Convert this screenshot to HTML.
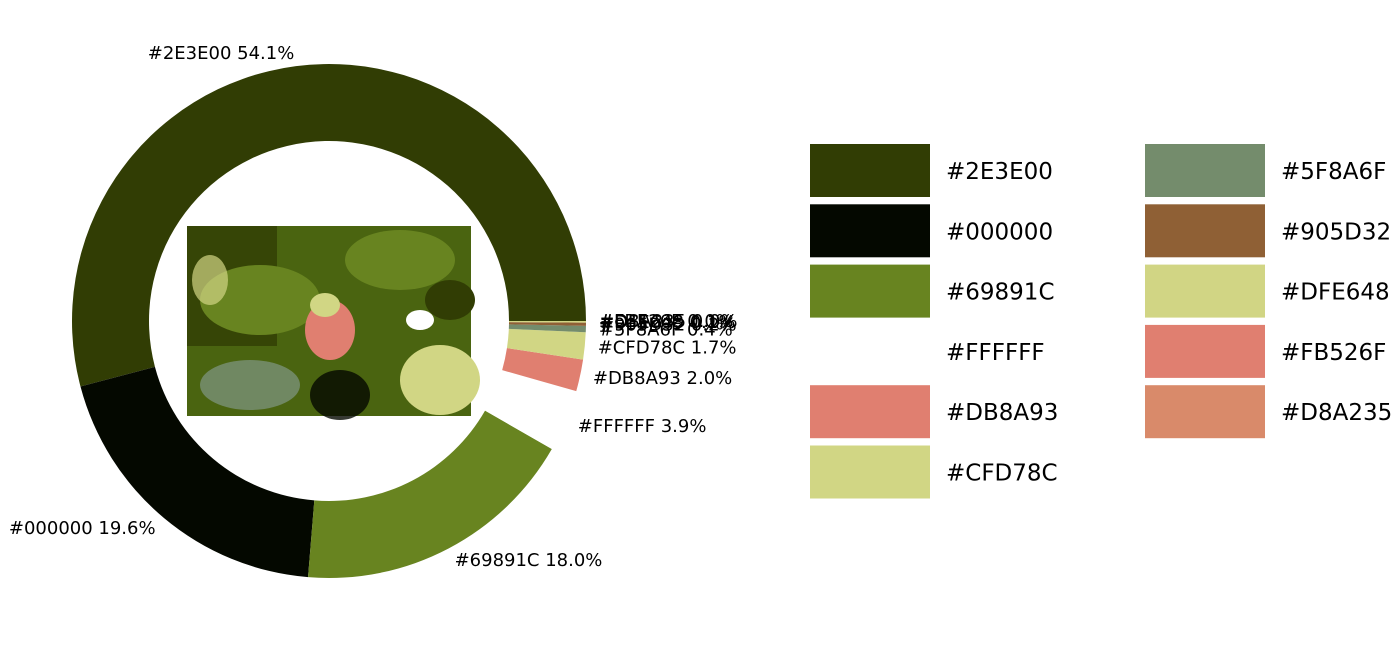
<!DOCTYPE html>
<html><head><meta charset="utf-8">
<style>
html,body{margin:0;padding:0;background:#fff;}
body{width:1400px;height:644px;overflow:hidden;position:relative;font-family:"DejaVu Sans","Liberation Sans",sans-serif;}
</style></head>
<body>
<svg id="chart" width="1400" height="644" xmlns="http://www.w3.org/2000/svg">
  <g id="photo">
    <rect x="187" y="226" width="284" height="190" fill="#4a6410"/>
    <rect x="187" y="226" width="90" height="120" fill="#313d04" opacity="0.8"/>
    <ellipse cx="260" cy="300" rx="60" ry="35" fill="#688420"/>
    <ellipse cx="400" cy="260" rx="55" ry="30" fill="#688420"/>
    <ellipse cx="440" cy="380" rx="40" ry="35" fill="#d1d684"/>
    <ellipse cx="250" cy="385" rx="50" ry="25" fill="#748c6c" opacity="0.9"/>
    <ellipse cx="340" cy="395" rx="30" ry="25" fill="#040800" opacity="0.8"/>
    <ellipse cx="450" cy="300" rx="25" ry="20" fill="#313d04"/>
    <ellipse cx="330" cy="330" rx="25" ry="30" fill="#e07f70"/>
    <ellipse cx="325" cy="305" rx="15" ry="12" fill="#d1d684"/>
    <ellipse cx="420" cy="320" rx="14" ry="10" fill="#FFFFFF"/>
    <ellipse cx="210" cy="280" rx="18" ry="25" fill="#d1d684" opacity="0.7"/>
  </g>
  <g id="slices"></g>
  <g id="labels"></g>
  <g id="legend"></g>
</svg>
<script>
const colors = ["#2E3E00","#000000","#69891C","#FFFFFF","#DB8A93","#CFD78C","#5F8A6F","#905D32","#DFE648","#FB526F","#D8A235"];
const displayColors = ["#313d04","#040800","#688420","#FFFFFF","#e07f70","#d1d684","#748c6c","#8f6035","#d1d584","#e07f70","#d98a6a"];
const percents = [54.1,19.6,18.0,3.9,2.0,1.7,0.4,0.2,0.1,0.0,0.0];
const legendLabels = ["#2E3E00","#000000","#69891C","#FFFFFF","#DB8A93","#CFD78C","#5F8A6F","#905D32","#DFE648","#FB526F","#D8A235"];

const NS="http://www.w3.org/2000/svg";
const cx=329, cy=321, R=257, r0=180, LR=270;
const total=percents.reduce((a,b)=>a+b,0);
function pt(rad,deg){const a=deg*Math.PI/180;return [cx+rad*Math.cos(a), cy-rad*Math.sin(a)];}
const gS=document.getElementById('slices'), gL=document.getElementById('labels'), gG=document.getElementById('legend');
let start=0;
percents.forEach((p,i)=>{
  const sweep=p/total*360, end=start+sweep;
  if(sweep>0){
    const [x1,y1]=pt(R,start),[x2,y2]=pt(R,end),[x3,y3]=pt(r0,end),[x4,y4]=pt(r0,start);
    const large=sweep>180?1:0;
    const path=document.createElementNS(NS,'path');
    path.setAttribute('d',`M${x1},${y1} A${R},${R} 0 ${large} 0 ${x2},${y2} L${x3},${y3} A${r0},${r0} 0 ${large} 1 ${x4},${y4} Z`);
    path.setAttribute('fill',displayColors[i]);
    
    
    gS.appendChild(path);
  }
  const mid=start+sweep/2;
  const [lx,ly]=pt(LR,mid);
  const t=document.createElementNS(NS,'text');
  t.setAttribute('x',lx);t.setAttribute('y',ly+6);
  t.setAttribute('font-size','18');t.setAttribute('fill','#000');
  t.setAttribute('text-anchor',lx<cx?'end':'start');
  t.textContent=colors[i]+' '+p.toFixed(1)+'%';
  
  
  gL.appendChild(t);
  start=end;
});
legendLabels.forEach((lab,i)=>{
  const col=i<6?0:1, row=i<6?i:i-6;
  const x=col?1145:810, y=144+row*60.3;
  const g=document.createElementNS(NS,'g');
  
  
  const rc=document.createElementNS(NS,'rect');
  rc.setAttribute('x',x);rc.setAttribute('y',y);rc.setAttribute('width',120);rc.setAttribute('height',53);
  rc.setAttribute('fill',displayColors[i]);
  
  
  const t=document.createElementNS(NS,'text');
  t.setAttribute('x',x+136);t.setAttribute('y',y+35);
  t.setAttribute('font-size','23');t.setAttribute('fill','#000');
  t.textContent=lab;
  
  
  g.appendChild(rc);g.appendChild(t);gG.appendChild(g);
});
</script>
</body></html>
